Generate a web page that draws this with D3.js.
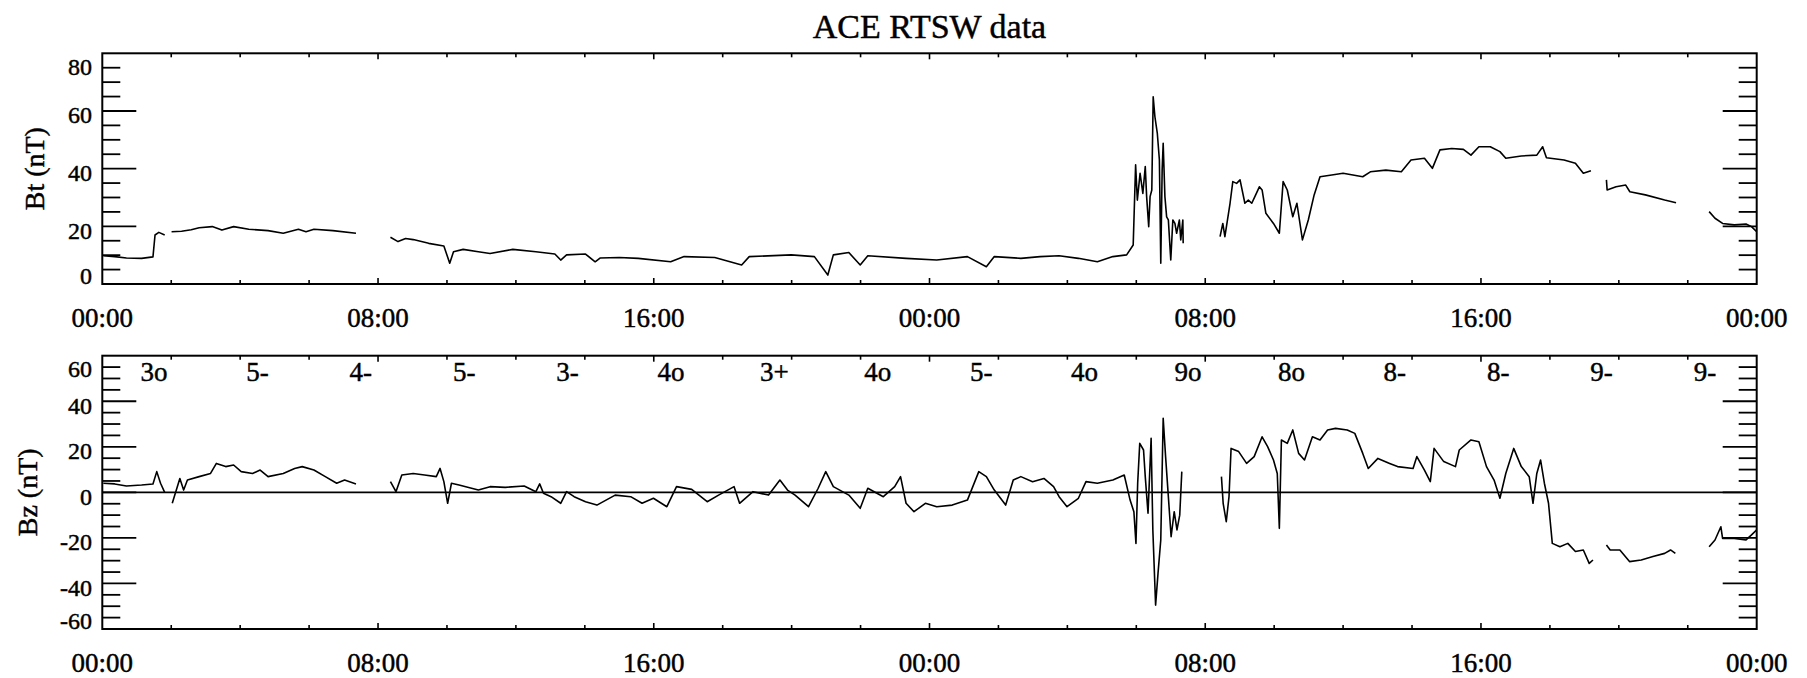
<!DOCTYPE html>
<html>
<head>
<meta charset="utf-8">
<script src="https://cdn.jsdelivr.net/npm/d3@7"></script>
<style>
  body { margin: 0; background: #fff; }
  text { font-family: "Liberation Serif", "Times New Roman", serif; fill: #000; stroke: #000; stroke-width: 0.45px; }
</style>
</head>
<body>
<script>
// values, time in hours since the first 00:00 (two days shown)
const btHours = [0.03, 0.36, 0.7, 1.14, 1.47, 1.53, 1.64, 1.81, 1.9,
    2.01, 2.3, 2.58, 2.81, 3.19, 3.47, 3.81, 4.25, 4.81, 5.25, 5.69, 5.91, 6.14, 6.69, 7.36, 7.9,
    8.36, 8.58, 8.8, 9.02, 9.47, 9.91, 10.08, 10.19, 10.47, 10.91, 11.25, 11.91, 12.58, 13.13, 13.3, 13.47,
    14.02, 14.3, 14.44, 15.0, 15.55, 16.49, 16.88, 17.77, 18.55, 18.77, 19.99, 20.66, 21.05, 21.21, 21.66,
    21.99, 22.21, 23.32, 24.21, 25.1, 25.65, 25.88, 26.65, 27.21, 27.76, 28.32, 28.87, 29.32, 29.72, 29.91,
    29.98, 30.03, 30.11, 30.19, 30.26, 30.3, 30.36, 30.4, 30.45, 30.49, 30.54, 30.61, 30.67, 30.71, 30.75,
    30.78, 30.83, 30.88, 30.93, 31.0, 31.06, 31.12, 31.17, 31.25, 31.29, 31.35, 31.36, 31.9,
    32.43, 32.51, 32.57, 32.72, 32.8, 32.91, 33.01, 33.15, 33.25, 33.35, 33.44, 33.57, 33.65, 33.76, 33.98,
    34.15, 34.26, 34.38, 34.54, 34.66, 34.82, 34.99, 35.16, 35.33, 35.67, 36.0, 36.57, 36.79, 37.24, 37.69,
    37.97, 38.36, 38.59, 38.81, 39.15, 39.49, 39.71, 39.94, 40.27, 40.55, 40.72, 41.17, 41.62, 41.79, 41.9,
    42.41, 42.74, 42.97, 43.19, 43.4,
    43.64, 43.66, 43.92, 44.2, 44.32, 44.77, 45.33, 45.66, 46.1,
    46.62, 46.79, 47.01, 47.35, 47.69, 47.85, 48.0];
const btValues = [9.8, 9.5, 9.0, 8.9, 9.4, 17.0, 17.9, 17.0, null,
    18.1, 18.3, 18.8, 19.5, 19.9, 18.7, 19.9, 19.0, 18.5, 17.6, 19.0, 18.1, 19.0, 18.5, 17.6, null,
    16.2, 14.7, 15.8, 15.4, 14.1, 13.2, 7.2, 11.2, 12.0, 11.2, 10.6, 12.0, 11.2, 10.4, 8.3, 10.1,
    10.4, 7.7, 9.0, 9.2, 8.9, 7.7, 9.5, 9.2, 6.6, 9.5, 10.1, 9.5, 3.1, 10.1, 10.9,
    6.6, 9.8, 8.9, 8.3, 9.5, 6.0, 9.5, 8.9, 9.5, 9.8, 8.9, 7.7, 9.5, 10.1, 13.5,
    41.3, 29.1, 38.4, 31.4, 40.7, 30.3, 19.9, 30.3, 32.6, 64.9, 58.0, 52.2, 43.0, 7.2, 39.5,
    48.8, 30.3, 23.3, 22.2, 8.3, 22.2, 21.0, 17.6, 22.2, 15.3, 22.2, 14.1, null,
    16.4, 21.0, 16.4, 28.0, 35.5, 34.9, 36.1, 28.0, 29.1, 28.0, 30.3, 33.7, 32.6, 24.5, 21.0,
    17.6, 35.5, 32.6, 23.3, 28.0, 15.3, 22.2, 30.9, 37.2, 37.8, 38.4, 37.2, 38.9, 39.5, 38.9,
    43.0, 43.6, 40.1, 46.5, 47.0, 46.7, 44.7, 47.6, 47.6, 45.9, 43.6, 44.4, 44.7, 47.6, 43.8,
    43.0, 41.9, 38.4, 39.3, null,
    36.1, 32.6, 33.7, 34.3, 32.0, 30.9, 29.1, 28.2, null,
    25.1, 22.8, 21.0, 20.5, 20.8, 19.9, 18.1];

const bzHours = [0.03, 0.36, 0.7, 1.14, 1.47, 1.58, 1.69, 1.81, 1.9,
    2.03, 2.25, 2.36, 2.47, 2.81, 3.14, 3.31, 3.58, 3.81, 4.03, 4.36, 4.58, 4.81, 5.25, 5.58, 5.8, 6.14,
    6.47, 6.8, 7.03, 7.36, 7.9,
    8.36, 8.52, 8.69, 9.02, 9.35, 9.69, 9.8, 9.91, 10.02, 10.13, 10.35, 10.91, 11.25, 11.69, 12.24, 12.58,
    12.69, 12.8, 13.02, 13.3, 13.47, 13.69, 14.02, 14.35, 14.88, 15.33, 15.66, 15.99, 16.38, 16.66, 17.1,
    17.55, 17.88, 18.33, 18.49, 18.88, 19.33, 19.66, 19.88, 20.1, 20.49, 20.77, 20.99, 21.21, 21.66, 21.99,
    22.21, 22.66, 22.99, 23.16, 23.32, 23.55, 23.88, 24.21, 24.66, 25.1, 25.43, 25.65, 25.88, 26.21, 26.43,
    26.65, 26.99, 27.32, 27.6, 27.76, 27.99, 28.32, 28.54, 28.87, 29.32, 29.65, 29.82, 29.93, 29.99, 30.04,
    30.1, 30.21, 30.26, 30.34, 30.43, 30.48, 30.56, 30.63, 30.71, 30.78, 30.85, 30.93, 31.01, 31.1, 31.18,
    31.26, 31.32, 31.9,
    32.47, 32.52, 32.61, 32.69, 32.75, 32.97, 33.2, 33.42, 33.65, 33.81, 33.98, 34.09, 34.15, 34.21, 34.38,
    34.54, 34.71, 34.88, 35.11, 35.33, 35.55, 35.78, 36.12, 36.34, 36.57, 36.73, 37.01, 37.35, 37.58, 38.03,
    38.14, 38.36, 38.53, 38.64, 38.92, 39.26, 39.37, 39.71, 39.94, 40.16, 40.38, 40.55, 40.72, 40.95, 41.17,
    41.4, 41.51, 41.62, 41.73, 41.84, 41.96, 42.07, 42.29, 42.52, 42.74, 42.97, 43.14, 43.25, 43.45,
    43.64, 43.75, 44.03, 44.31, 44.65, 44.99, 45.33, 45.5, 45.64, 46.1,
    46.62, 46.79, 46.96, 47.01, 47.35, 47.69, 47.85, 48.0];
const bzValues = [4.0, 3.7, 2.8, 3.2, 3.7, 9.1, 4.0, 0.0, null,
    -4.8, 6.1, 1.0, 5.4, 6.9, 8.3, 12.7, 11.3, 12.0, 9.1, 8.3, 9.8, 6.9, 8.3, 10.5, 11.3, 9.8,
    6.9, 4.0, 5.4, 3.7, null,
    4.7, 0.3, 7.6, 8.3, 7.6, 6.9, 10.5, 4.7, -4.8, 4.0, 3.2, 1.0, 2.5, 2.2, 2.8, 0.3,
    3.7, -0.4, -1.9, -4.8, 0.3, -1.9, -4.1, -5.6, -1.2, -1.9, -4.8, -2.6, -6.3, 2.5, 1.3,
    -4.1, -1.2, 2.5, -4.8, 0.3, -1.2, 5.4, 1.0, -1.2, -6.3, 1.8, 9.1, 2.5, -1.2, -7.0,
    1.8, -1.9, 2.5, 6.9, -4.8, -8.5, -4.8, -6.3, -5.6, -3.4, 9.1, 6.9, 1.0, -5.6, 5.4,
    6.9, 4.7, 6.1, 2.5, -1.9, -6.3, -2.6, 4.7, 4.0, 5.4, 7.6, -3.4, -8.5, -22.4, 4.0,
    21.5, 18.6, 6.9, -9.2, 23.7, -16.5, -49.5, -35.6, -20.9, 32.5, 15.7, -1.9, -19.5, -8.5, -16.5,
    -10.0, 9.1, null,
    6.9, -4.8, -12.9, -1.9, 19.3, 17.9, 12.7, 15.7, 24.4, 20.1, 14.2, 8.3, -15.8, 23.0, 21.5,
    27.4, 17.1, 14.2, 24.4, 23.0, 27.4, 28.1, 27.4, 25.9, 17.1, 10.5, 14.9, 12.7, 11.3, 10.5,
    15.7, 9.8, 4.7, 19.3, 13.5, 11.3, 18.6, 23.0, 22.2, 11.3, 5.4, -2.6, 8.3, 19.3, 11.3,
    6.9, -4.8, 8.3, 14.2, 4.0, -4.8, -22.4, -23.9, -22.4, -26.0, -25.3, -31.2, -29.7, null,
    -23.1, -25.3, -25.3, -30.4, -29.7, -28.2, -26.8, -25.3, -26.8, null,
    -23.9, -20.9, -15.1, -20.2, -20.2, -20.9, -18.7, -16.5];

// 3-hourly Kp index printed along the top of the Bz panel
const kpLabels = ["3o", "5-", "4-", "5-", "3-", "4o", "3+", "4o", "5-", "4o", "9o", "8o", "8-", "8-", "9-", "9-"];

// time axis
const timeTicks = [0, 8, 16, 24, 32, 40, 48];
const timeLabels = ["00:00", "08:00", "16:00", "00:00", "08:00", "16:00", "00:00"];

const width = 1807, height = 678;
const plotLeft = 102.3, plotRight = 1756.7;

const svg = d3.select("body")
    .append("svg")
    .attr("width", width)
    .attr("height", height)

svg.append("rect")
    .attr("width", width)
    .attr("height", height)
    .attr("fill", "#fff")

const x = d3.scaleLinear()
    .domain([0, 48])
    .range([plotLeft, plotRight])

// chart title
svg.append("text")
    .attr("x", (plotLeft + plotRight) / 2)
    .attr("y", 37.5)
    .attr("text-anchor", "middle")
    .style("font-size", "34px")
    .text("ACE RTSW data")

const panels = [
    { top: 53.3, bottom: 284, domain: [0, 80], title: "Bt (nT)", titleX: 34, hours: btHours, values: btValues, zero: false, kp: false },
    { top: 355.7, bottom: 629, domain: [-60, 60], title: "Bz (nT)", titleX: 27, hours: bzHours, values: bzValues, zero: true, kp: true }
]

panels.forEach((p, idx) => {
    const y = d3.scaleLinear()
        .domain(p.domain)
        .range([p.bottom, p.top])

    const g = svg.append("g").attr("class", "panel")

    // clip the trace to the plot box
    g.append("clipPath")
        .attr("id", "clip" + idx)
        .append("rect")
        .attr("x", plotLeft)
        .attr("y", p.top)
        .attr("width", plotRight - plotLeft)
        .attr("height", p.bottom - p.top)

    // zero reference line
    if (p.zero) {
        g.append("line")
            .attr("x1", plotLeft)
            .attr("x2", plotRight)
            .attr("y1", y(0))
            .attr("y2", y(0))
            .attr("stroke", "#000")
            .attr("stroke-width", 1.8)
    }

    const data = p.hours.map((h, i) => ({ h: h, v: p.values[i] }))
    const line = d3.line()
        .defined(d => d.v !== null)
        .x(d => x(d.h))
        .y(d => y(d.v))

    g.append("path")
        .datum(data)
        .attr("clip-path", "url(#clip" + idx + ")")
        .attr("fill", "none")
        .attr("stroke", "#000")
        .attr("stroke-width", 1.6)
        .attr("stroke-linejoin", "round")
        .attr("d", line)

    // y ticks every 5, long ones every 20, on both sides pointing inward
    const yTicks = d3.range(p.domain[0] + 5, p.domain[1], 5)
    const tickLen = v => (v % 20 === 0 ? 34 : 18)
    g.selectAll(".ytl")
        .data(yTicks)
        .enter()
        .append("line")
        .attr("x1", plotLeft)
        .attr("x2", v => plotLeft + tickLen(v))
        .attr("y1", v => y(v))
        .attr("y2", v => y(v))
        .attr("stroke", "#000")
        .attr("stroke-width", 1.8)
    g.selectAll(".ytr")
        .data(yTicks)
        .enter()
        .append("line")
        .attr("x1", plotRight)
        .attr("x2", v => plotRight - tickLen(v))
        .attr("y1", v => y(v))
        .attr("y2", v => y(v))
        .attr("stroke", "#000")
        .attr("stroke-width", 1.8)

    // y tick labels, kept inside the box height
    g.selectAll(".ylab")
        .data(d3.range(p.domain[0], p.domain[1] + 1, 20))
        .enter()
        .append("text")
        .attr("x", 92)
        .attr("y", v => Math.max(p.top + 13, Math.min(p.bottom - 8, y(v) + 4)))
        .attr("dy", "0.35em")
        .attr("text-anchor", "end")
        .style("font-size", "24px")
        .text(v => v)

    // x ticks every 2 hours, longer every 8, on bottom and top
    const xTicks = d3.range(2, 48, 2)
    const xLen = h => (h % 8 === 0 ? 6 : 4)
    g.selectAll(".xtb")
        .data(xTicks)
        .enter()
        .append("line")
        .attr("x1", h => x(h))
        .attr("x2", h => x(h))
        .attr("y1", p.bottom)
        .attr("y2", h => p.bottom - xLen(h))
        .attr("stroke", "#000")
        .attr("stroke-width", 1.6)
    g.selectAll(".xtt")
        .data(xTicks)
        .enter()
        .append("line")
        .attr("x1", h => x(h))
        .attr("x2", h => x(h))
        .attr("y1", p.top)
        .attr("y2", h => p.top + xLen(h))
        .attr("stroke", "#000")
        .attr("stroke-width", 1.6)

    // time labels under the panel
    g.selectAll(".xlab")
        .data(timeTicks)
        .enter()
        .append("text")
        .attr("x", h => x(h))
        .attr("y", p.bottom + 34)
        .attr("dy", "0.35em")
        .attr("text-anchor", "middle")
        .style("font-size", "27px")
        .text((h, i) => timeLabels[i])

    // panel box
    g.append("rect")
        .attr("x", plotLeft)
        .attr("y", p.top)
        .attr("width", plotRight - plotLeft)
        .attr("height", p.bottom - p.top)
        .attr("fill", "none")
        .attr("stroke", "#000")
        .attr("stroke-width", 2)

    // rotated axis title
    g.append("text")
        .attr("transform", "translate(" + p.titleX + "," + (p.top + p.bottom) / 2 + ") rotate(-90)")
        .attr("dy", "0.35em")
        .attr("text-anchor", "middle")
        .style("font-size", "28px")
        .text(p.title)

    // Kp values, one per 3-hour interval
    if (p.kp) {
        g.selectAll(".kp")
            .data(kpLabels)
            .enter()
            .append("text")
            .attr("x", (d, i) => x(i * 3 + 1.5))
            .attr("y", p.top + 16)
            .attr("dy", "0.35em")
            .attr("text-anchor", "middle")
            .style("font-size", "27px")
            .text(d => d)
    }
})
</script>
</body>
</html>
